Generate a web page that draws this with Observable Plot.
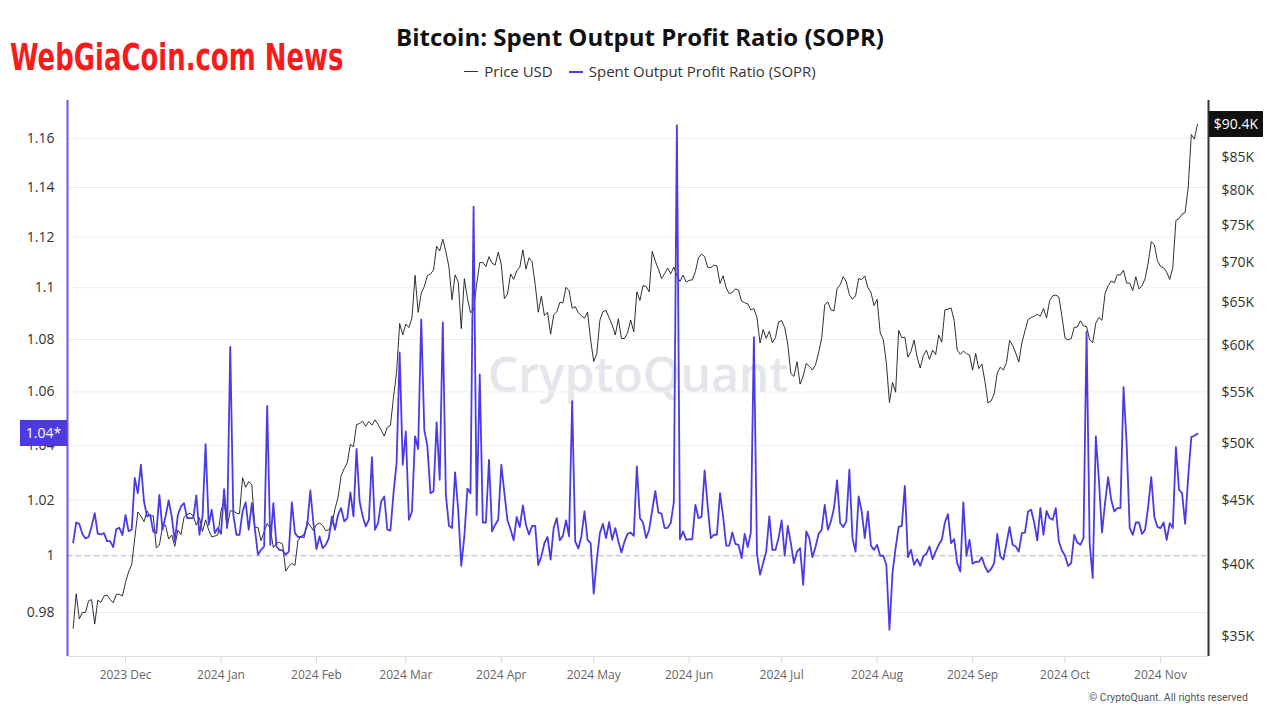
<!DOCTYPE html>
<html>
<head>
<meta charset="utf-8">
<script src="https://cdn.jsdelivr.net/npm/d3@7"></script>
<script src="https://cdn.jsdelivr.net/npm/@observablehq/plot@0.6"></script>
<style>
  body { margin: 0; background: #fff; }
  #wrap { position: relative; width: 1280px; height: 720px; overflow: hidden; background: #fff; font-family: "Open Sans", sans-serif; }
  #chart { position: absolute; left: 0; top: 0; }
  #title { position: absolute; top: 20px; left: 0; width: 1280px; text-align: center; font: 700 24px "Open Sans", sans-serif; color: #111; }
  #legend { position: absolute; top: 61px; left: 0; width: 1280px; text-align: center; font: 400 15px "Open Sans", sans-serif; color: #333; }
  #legend .sw { display: inline-block; width: 14px; vertical-align: middle; margin-right: 6px; position: relative; top: -1px; }
  #legend .item { margin: 0 8px; }
  #brand { position: absolute; left: 10px; top: 36px; font: 700 31px "DejaVu Sans Condensed", "Liberation Sans Narrow", sans-serif; color: #f81b1b; transform-origin: 0 0; transform: scale(0.93, 1.18); white-space: nowrap; }
  #copy { position: absolute; left: 1089px; top: 691px; font: 400 10.5px Roboto, sans-serif; color: #555; }
  .tag { position: absolute; color: #fff; font: 400 14px "Open Sans", sans-serif; text-align: center; line-height: 26px; height: 26px; }
</style>
</head>
<body>
<div id="wrap">
  <div id="chart"></div>
  <div id="title">Bitcoin: Spent Output Profit Ratio (SOPR)</div>
  <div id="legend"></div>
  <div id="brand">WebGiaCoin.com News</div>
  <div id="copy">© CryptoQuant. All rights reserved</div>
</div>
<script>
// ---- data (daily, first day below) ----
const startDate = "2023-11-14";
const seriesNames = ["Price USD", "Spent Output Profit Ratio (SOPR)"];
const priceUSD = [
  35537,37880,36154,36596,36585,37386,37476,35813,37432,37289,37720,37796,37479,37254,37832,37854,37723,
  38682,39450,39973,41980,44080,43746,43293,44166,43726,43779,41244,41450,42890,43023,41929,42240,41364,42623,42270,43652,43869,43997,43740,43016,43613,42520,43443,42627,42099,42156,42265,
  44167,44958,42848,44179,44162,43989,43943,46970,46139,46627,46368,42853,42842,41796,42511,43154,42742,41262,41618,41665,41545,39507,39845,40077,39933,41816,42120,42035,43288,42952,42582,
  43075,43185,42992,42584,42658,43084,44318,45301,47147,47771,48293,49958,49742,51826,51938,52160,51663,52122,51779,52284,51839,51304,50731,51571,51733,54522,57085,62504,61198,
  62440,62029,63167,68330,63801,66106,66925,68300,68498,69019,72123,71481,73083,71397,69403,65315,68391,67548,61912,67913,65491,63778,64062,67234,69958,69987,69455,70744,69892,69645,71333,
  69702,65446,65980,68508,67837,68896,69362,71631,69139,70587,70060,67195,63821,65738,63426,63811,61276,63512,63843,64994,64926,66837,66408,64276,64482,63755,63420,63113,63841,60636,
  58254,59123,62889,63891,64031,63161,62334,61187,63049,60793,60793,61448,62901,61553,66267,65231,67051,66940,66278,71448,70136,69122,67929,68526,69266,68518,69394,68296,67578,68364,67491,
  67706,67751,68804,70567,71082,70757,69342,69305,69648,69540,67314,68264,66773,66044,66191,66639,66491,65140,64960,64828,64096,64252,63180,60277,61804,60811,61604,60320,60887,62678,
  62851,62029,60174,56977,56663,58231,55857,56714,58052,57725,57339,57889,59204,60798,64724,65044,64088,63987,66661,67140,68166,67532,65937,65372,65777,67912,67813,68255,66820,66201,64620,
  65357,61415,60680,58116,53991,56034,55027,61710,60881,60945,58719,59354,60609,58737,57560,58894,59478,58483,59493,59012,61175,60381,64094,64178,64333,62880,59504,59027,59388,59119,58970,
  57326,59132,57487,57971,56160,53949,54140,54841,57019,57648,57343,58127,60571,60005,59182,58192,60309,61649,62941,63199,63348,63579,63339,64262,63144,65181,65790,65888,65635,63329,
  60837,60632,60759,62068,62089,62819,62224,62161,60636,60327,62540,63206,62870,66083,67041,67612,67399,68419,68362,69002,67367,67362,66432,68161,66642,67014,67929,69907,72720,72339,70215,
  69482,69289,68742,67811,69360,75639,75905,76545,76778,80474,88701,87955,90400
];
const soprValues = [
  1.0047,1.0119,1.0114,1.0078,1.0062,1.0067,1.0105,1.0153,1.0078,1.0076,
  1.0081,1.0052,1.0052,1.0031,1.0095,1.0100,1.0074,1.0146,1.0088,1.0093,
  1.0281,1.0225,1.0329,1.0195,1.0141,1.0147,1.0087,1.0081,1.0219,1.0093,
  1.0141,1.0199,1.0141,1.0051,1.0147,1.0177,1.0189,1.0135,1.0135,1.0135,
  1.0217,1.0075,1.0141,1.0405,1.0111,1.0165,1.0081,1.0099,1.0078,1.0240,
  1.0099,1.0771,1.0147,1.0075,1.0075,1.0159,1.0192,1.0093,1.0189,1.0095,
  1.0004,1.0021,1.0033,1.0548,1.0039,1.0189,1.0033,1.0021,1.0019,1.0004,
  1.0015,1.0192,1.0081,1.0067,1.0067,1.0075,1.0111,1.0235,1.0117,1.0024,
  1.0069,1.0027,1.0039,1.0063,1.0141,1.0093,1.0147,1.0171,1.0123,1.0135,
  1.0228,1.0141,1.0387,1.0195,1.0141,1.0105,1.0129,1.0357,1.0093,1.0117,
  1.0195,1.0213,1.0093,1.0090,1.0225,1.0335,1.0750,1.0329,1.0452,1.0129,
  1.0159,1.0434,1.0387,1.0877,1.0458,1.0397,1.0225,1.0232,1.0486,1.0274,
  1.0866,1.0220,1.0107,1.0099,1.0301,1.0165,0.9964,1.0069,1.0242,1.0225,
  1.1322,1.0146,1.0666,1.0119,1.0119,1.0347,1.0087,1.0111,1.0129,1.0329,
  1.0225,1.0127,1.0095,1.0055,1.0139,1.0103,1.0181,1.0110,1.0076,1.0107,
  1.0107,0.9967,0.9998,1.0045,1.0067,0.9986,1.0099,1.0135,1.0055,1.0071,
  1.0127,1.0069,1.0565,1.0050,1.0026,1.0069,1.0159,1.0057,1.0045,0.9866,
  0.9986,1.0081,1.0114,1.0063,1.0120,1.0057,1.0099,1.0051,1.0012,1.0051,
  1.0078,1.0083,1.0071,1.0323,1.0135,1.0119,1.0063,1.0093,1.0165,1.0233,
  1.0155,1.0151,1.0099,1.0100,1.0117,1.0192,1.1654,1.0059,1.0087,1.0057,
  1.0059,1.0059,1.0183,1.0135,1.0139,1.0308,1.0177,1.0063,1.0075,1.0075,
  1.0225,1.0141,1.0036,1.0036,1.0083,1.0042,1.0039,0.9992,1.0078,1.0031,
  1.0083,1.0809,1.0007,0.9933,0.9974,1.0015,1.0141,1.0021,1.0021,1.0063,
  1.0127,1.0000,1.0107,1.0045,0.9974,1.0015,1.0027,0.9897,1.0087,1.0063,
  0.9995,1.0031,1.0078,1.0093,1.0183,1.0093,1.0123,1.0171,1.0272,1.0117,
  1.0103,1.0123,1.0311,1.0063,1.0015,1.0213,1.0159,1.0063,1.0159,1.0036,
  1.0021,1.0039,1.0000,1.0000,0.9968,0.9740,0.9939,1.0027,1.0103,1.0107,
  1.0252,0.9995,1.0021,0.9968,0.9988,0.9964,0.9998,1.0007,1.0033,0.9988,
  1.0015,1.0039,1.0057,1.0119,1.0149,1.0045,1.0059,0.9974,0.9944,1.0192,
  1.0000,1.0057,0.9972,0.9979,0.9978,0.9995,0.9962,0.9942,0.9953,0.9974,
  1.0078,0.9998,0.9986,1.0045,1.0103,1.0039,1.0033,1.0015,1.0081,1.0083,
  1.0159,1.0165,1.0119,1.0055,1.0171,1.0075,1.0161,1.0135,1.0129,1.0171,
  1.0051,1.0019,1.0000,0.9964,0.9974,1.0075,1.0047,1.0039,1.0063,1.0830,
  1.0045,0.9921,1.0434,1.0274,1.0083,1.0189,1.0284,1.0201,1.0159,1.0171,
  1.0171,1.0618,1.0409,1.0099,1.0075,1.0119,1.0119,1.0078,1.0093,1.0177,
  1.0284,1.0139,1.0103,1.0099,1.0119,1.0057,1.0117,1.0099,1.0394,1.0238,
  1.0225,1.0114,1.0286,1.0431,1.0436,1.0444
];
const soprTicks = [0.98, 1, 1.02, 1.04, 1.06, 1.08, 1.1, 1.12, 1.14, 1.16];
const priceTicks = [35000, 40000, 45000, 50000, 55000, 60000, 65000, 70000, 75000, 80000, 85000];
const monthTicks = ["2023-12-01","2024-01-01","2024-02-01","2024-03-01","2024-04-01","2024-05-01","2024-06-01","2024-07-01","2024-08-01","2024-09-01","2024-10-01","2024-11-01"];

// ---- scales / layout ----
const sDomain = [0.9648, 1.1758];
const pDomain = [33727, 94472];
const xDomain = [new Date("2023-11-12T04:00Z"), new Date("2024-11-16T14:00Z")];
const lnS0 = Math.log(sDomain[0]), lnS1 = Math.log(sDomain[1]);
const lnP0 = Math.log(pDomain[0]), lnP1 = Math.log(pDomain[1]);
const toS = p => Math.exp(lnS0 + (Math.log(p) - lnP0) / (lnP1 - lnP0) * (lnS1 - lnS0));
const toP = s => Math.exp(lnP0 + (Math.log(s) - lnS0) / (lnS1 - lnS0) * (lnP1 - lnP0));

const SOPR_COLOR = "#4b3be6";
const start = new Date(startDate + "T00:00Z");
const rows = priceUSD.map((p, i) => ({date: d3.utcDay.offset(start, i), price: p, sopr: soprValues[i]}));
const months = monthTicks.map(s => new Date(s + "T00:00Z"));

const chart = Plot.plot({
  width: 1280, height: 720,
  marginLeft: 67, marginRight: 72, marginTop: 100, marginBottom: 64,
  style: {fontFamily: "'Open Sans', sans-serif", background: "transparent", overflow: "visible"},
  x: {type: "utc", domain: xDomain},
  y: {type: "log", domain: sDomain},
  marks: [
    Plot.text(["CryptoQuant"], {frameAnchor: "middle", fontSize: 48, fontWeight: 600, fill: "#e5e5ec", dy: -2, fontFamily: "'Open Sans', sans-serif"}),
    Plot.ruleY(soprTicks, {stroke: "#efeff3", strokeWidth: 1}),
    Plot.ruleY([1], {stroke: "#b6b3cc", strokeDasharray: "5,4", strokeWidth: 1}),
    Plot.line(rows, {x: "date", y: d => toS(d.price), stroke: "#1a1a1a", strokeWidth: 0.9}),
    Plot.line(rows, {x: "date", y: "sopr", stroke: SOPR_COLOR, strokeWidth: 1.8}),
    Plot.ruleY([sDomain[0]], {stroke: "#dcdce6", strokeWidth: 1.2}),
    Plot.ruleX([xDomain[0]], {stroke: "#6a55f0", strokeWidth: 2}),
    Plot.ruleX([xDomain[1]], {stroke: "#333", strokeWidth: 2}),
    Plot.axisY(soprTicks, {anchor: "left", label: null, tickSize: 0, tickPadding: 13, fontSize: 14, fill: "#333", tickFormat: d => String(+d.toFixed(2))}),
    Plot.axisY(priceTicks.map(toS), {anchor: "right", label: null, tickSize: 0, tickPadding: 13, fontSize: 14, fill: "#333", tickFormat: s => "$" + Math.round(toP(s) / 1000) + "K"}),
    Plot.axisX(months, {anchor: "bottom", label: null, tickSize: 7, tickPadding: 7, fontSize: 12, stroke: "#d8d8e0", fill: "#666", tickFormat: d3.utcFormat("%Y %b")})
  ]
});
document.getElementById("chart").appendChild(chart);

// legend
const legend = document.getElementById("legend");
legend.innerHTML =
  `<span class="item"><span class="sw" style="border-top:1px solid #333"></span>${seriesNames[0]}</span>` +
  `<span class="item"><span class="sw" style="border-top:2px solid ${SOPR_COLOR}"></span>${seriesNames[1]}</span>`;

// last-value tags positioned through the plot's own scale
const yScale = chart.scale("y");
const lastS = soprValues[soprValues.length - 1];
const lastP = priceUSD[priceUSD.length - 1];
const wrap = document.getElementById("wrap");
const t1 = document.createElement("div");
t1.className = "tag";
t1.style.cssText = `left:20px;width:47px;top:${yScale.apply(lastS) - 13}px;background:#4d3ae0;`;
t1.textContent = (Math.floor(lastS * 100) / 100).toFixed(2) + "*";
wrap.appendChild(t1);
const t2 = document.createElement("div");
t2.className = "tag";
t2.style.cssText = `left:1209px;width:54px;top:${yScale.apply(toS(lastP)) - 13}px;background:#111;`;
t2.textContent = "$" + (lastP / 1000).toFixed(1) + "K";
wrap.appendChild(t2);
</script>
</body>
</html>
